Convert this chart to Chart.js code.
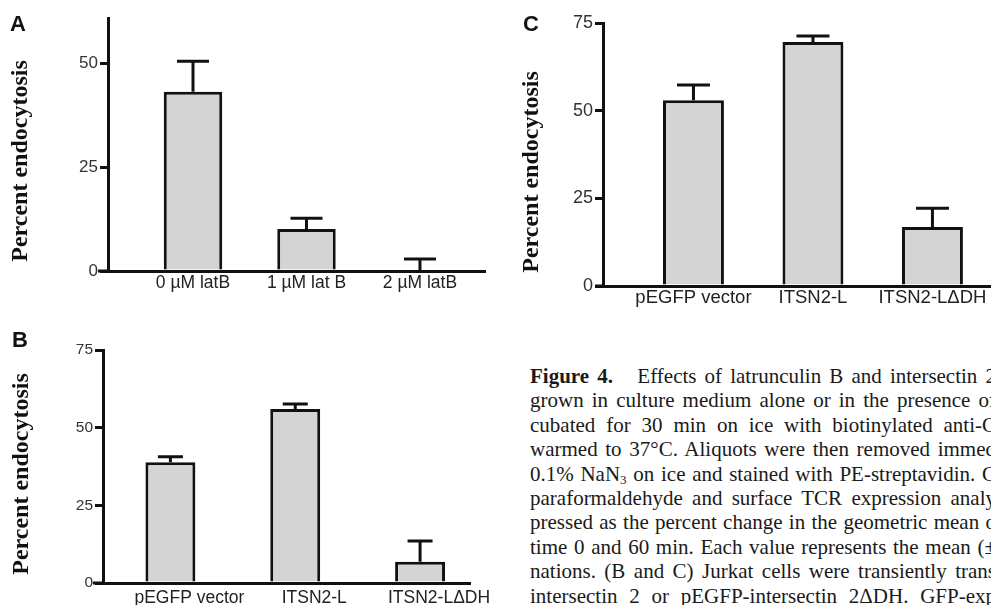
<!DOCTYPE html>
<html>
<head>
<meta charset="utf-8">
<script src="https://cdn.jsdelivr.net/npm/chart.js@4.4.1/dist/chart.umd.min.js"></script>
<style>
  html, body { margin: 0; padding: 0; background: #fff; width: 991px; height: 605px; overflow: hidden; }
  .panel { position: absolute; }
  .letter { position: absolute; font: bold 22px/22px "Liberation Sans", Arial, sans-serif; color: #111; }
  #caption { position: absolute; left: 530px; top: 364px; width: 466px; font-family: "Liberation Serif", "Times New Roman", serif; font-size: 21px; line-height: 24.4px; color: #1a1a1a; }
  #caption .ln { height: 24.4px; overflow: hidden; text-align: justify; text-align-last: justify; }
  #caption sub { font-size: 13px; vertical-align: -3px; line-height: 0; }
</style>
</head>
<body>
<div class="panel" style="left:0;top:0;width:500px;height:300px"><canvas id="cA"></canvas></div>
<div class="panel" style="left:0;top:300px;width:500px;height:305px"><canvas id="cB"></canvas></div>
<div class="panel" style="left:500px;top:0;width:491px;height:320px"><canvas id="cC"></canvas></div>
<div class="letter" style="left:10px;top:13px">A</div>
<div class="letter" style="left:12px;top:329px">B</div>
<div class="letter" style="left:523px;top:13px">C</div>
<div id="caption">
  <div class="ln"><b>Figure 4.</b>&nbsp;&nbsp; Effects of latrunculin B and intersectin 2</div>
  <div class="ln">grown in culture medium alone or in the presence of</div>
  <div class="ln">cubated for 30 min on ice with biotinylated anti-C</div>
  <div class="ln">warmed to 37°C. Aliquots were then removed immed</div>
  <div class="ln">0.1% NaN<sub>3</sub> on ice and stained with PE-streptavidin. C</div>
  <div class="ln">paraformaldehyde and surface TCR expression analy</div>
  <div class="ln">pressed as the percent change in the geometric mean o</div>
  <div class="ln">time 0 and 60 min. Each value represents the mean (±</div>
  <div class="ln">nations. (B and C) Jurkat cells were transiently trans</div>
  <div class="ln">intersectin 2 or pEGFP-intersectin 2ΔDH. GFP-exp</div>
</div>
<script>
// ---------- data ----------
const yTitle = 'Percent endocytosis';

const catsA = ['0 µM latB', '1 µM lat B', '2 µM latB'];
const meanA = [43.2, 10.1, 0];
const errA = [7.4, 2.6, 2.9];
const ticksA = [0, 25, 50];
const maxA = 61;

const catsB = ['pEGFP vector', 'ITSN2-L', 'ITSN2-LΔDH'];
const meanB = [38.9, 56.0, 6.8];
const errB = [1.7, 1.6, 6.7];
const ticksB = [0, 25, 50, 75];
const maxB = 75;

const catsC = ['pEGFP vector', 'ITSN2-L', 'ITSN2-LΔDH'];
const meanC = [53.0, 69.6, 16.8];
const errC = [4.3, 1.7, 5.4];
const ticksC = [0, 25, 50, 75];
const maxC = 75;

// ---------- plugins ----------
const errorBars = {
  id: 'errorBars',
  afterDatasetsDraw(chart, args, opts) {
    const ctx = chart.ctx, y = chart.scales.y;
    const ds = chart.data.datasets[0];
    const meta = chart.getDatasetMeta(0);
    ctx.save();
    ctx.strokeStyle = '#111';
    ctx.lineWidth = opts.width;
    ctx.lineCap = 'butt';
    meta.data.forEach((bar, i) => {
      const v = ds.data[i].y, e = ds.errorBars[i];
      const yTop = y.getPixelForValue(v + e);
      const yBase = y.getPixelForValue(v);
      ctx.beginPath();
      ctx.moveTo(bar.x, yBase);
      ctx.lineTo(bar.x, yTop);
      ctx.moveTo(bar.x - opts.cap / 2, yTop);
      ctx.lineTo(bar.x + opts.cap / 2, yTop);
      ctx.stroke();
    });
    ctx.restore();
  }
};
const axisStub = {
  id: 'axisStub',
  afterDraw(chart, args, opts) {
    const ctx = chart.ctx, a = chart.chartArea;
    const y0 = chart.scales.y.getPixelForValue(0);
    ctx.save();
    ctx.strokeStyle = '#111';
    ctx.lineWidth = 3;
    ctx.beginPath();
    ctx.moveTo(a.left - opts.ext, y0);
    ctx.lineTo(a.left, y0);
    ctx.stroke();
    ctx.restore();
  }
};
const yTitlePlugin = {
  id: 'yTitle',
  afterDraw(chart, args, opts) {
    const ctx = chart.ctx;
    ctx.save();
    ctx.translate(opts.x, opts.y);
    ctx.rotate(-Math.PI / 2);
    ctx.font = 'bold 24px "Liberation Serif", "Times New Roman", serif';
    ctx.fillStyle = '#111';
    ctx.textAlign = 'center';
    ctx.textBaseline = 'alphabetic';
    ctx.fillText(opts.text, 0, 0);
    ctx.restore();
  }
};

function makeChart(id, cats, means, errs, tickVals, yMax, L) {
  return new Chart(document.getElementById(id), {
    type: 'bar',
    data: {
      datasets: [{
        data: cats.map((c, i) => ({ x: i + 1, y: means[i] })),
        errorBars: errs,
        backgroundColor: '#d4d4d4',
        borderColor: '#111',
        borderWidth: 3,
        barPercentage: L.barPct,
        categoryPercentage: 1
      }]
    },
    options: {
      responsive: true,
      maintainAspectRatio: false,
      animation: false,
      events: [],
      layout: { padding: { left: 0, top: L.top, right: L.w - L.right, bottom: 0 } },
      plugins: {
        legend: { display: false },
        tooltip: { enabled: false },
        errorBars: { cap: L.cap, width: 3 },
        axisStub: { ext: L.ext },
        yTitle: { text: yTitle, x: L.tx, y: L.ty }
      },
      scales: {
        x: {
          type: 'linear',
          offset: false,
          min: L.xmin,
          max: L.xmax,
          grid: { display: false, drawTicks: false, offset: false },
          border: { display: true, color: '#111', width: 3 },
          afterBuildTicks: s => { s.ticks = cats.map((c, i) => ({ value: i + 1 })); },
          afterFit: s => { s.height = L.h - L.bottom; },
          ticks: {
            autoSkip: false, maxRotation: 0, minRotation: 0,
            padding: L.xPad,
            labelOffset: L.labelOffset,
            color: '#222',
            font: { family: '"Liberation Sans", Arial, sans-serif', size: L.fx },
            callback: v => cats[Math.round(v) - 1]
          }
        },
        y: {
          min: 0,
          max: yMax,
          afterBuildTicks: s => { s.ticks = tickVals.map(v => ({ value: v })); },
          afterFit: s => { s.width = L.left; },
          grid: { display: true, drawOnChartArea: false, drawTicks: true, tickLength: 8, lineWidth: 3, color: '#111' },
          border: { display: true, color: '#111', width: 3 },
          ticks: {
            padding: 2,
            color: '#333',
            font: { family: '"Liberation Sans", Arial, sans-serif', size: L.fy },
            callback: v => String(v)
          }
        }
      }
    },
    plugins: [errorBars, axisStub, yTitlePlugin]
  });
}

makeChart('cA', catsA, meanA, errA, ticksA, maxA,
  { w: 500, h: 300, left: 108, top: 18, right: 485, bottom: 271, xmin: 0.251, xmax: 3.573,
    barPct: 0.515, cap: 32, ext: 10, xPad: 2, labelOffset: 0, fx: 17.5, fy: 17, tx: 27, ty: 161 });
makeChart('cB', catsB, meanB, errB, ticksB, maxB,
  { w: 500, h: 305, left: 103, top: 50, right: 470, bottom: 283, xmin: 0.46, xmax: 3.40,
    barPct: 0.40, cap: 25, ext: 10, xPad: 5, labelOffset: 19, fx: 17.5, fy: 15.5, tx: 28, ty: 174 });
makeChart('cC', catsC, meanC, errC, ticksC, maxC,
  { w: 491, h: 320, left: 103, top: 23, right: 491, bottom: 286, xmin: 0.243, xmax: 3.49,
    barPct: 0.51, cap: 33, ext: 8, xPad: 1, labelOffset: 0, fx: 18.5, fy: 18, tx: 38, ty: 172 });
</script>
</body>
</html>
